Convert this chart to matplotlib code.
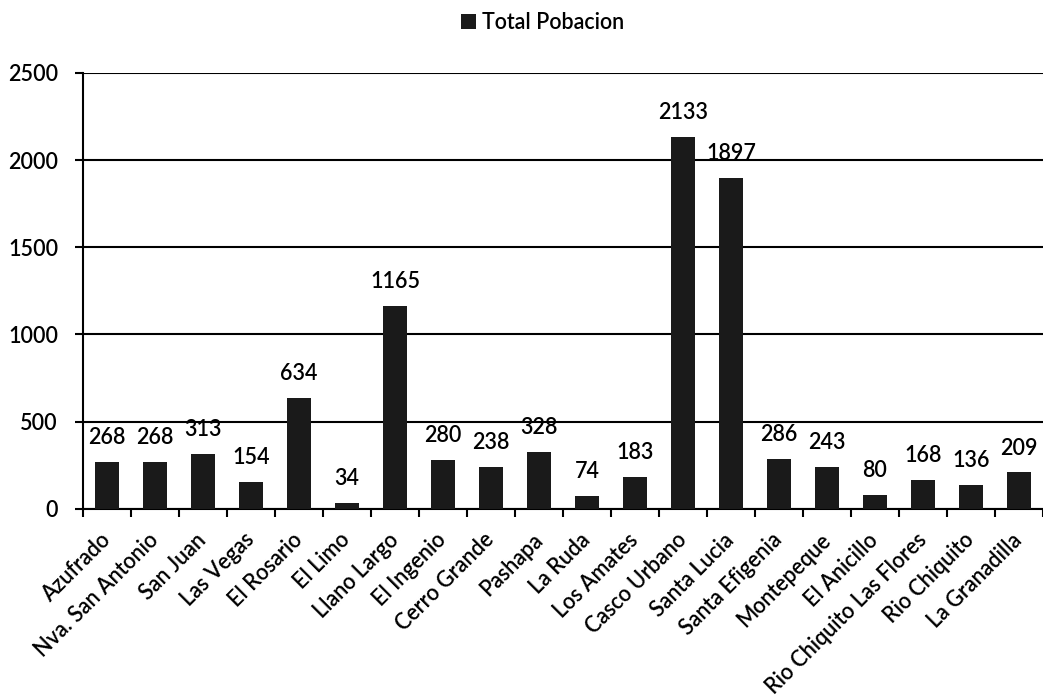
import matplotlib
matplotlib.use("Agg")
import matplotlib.pyplot as plt
import numpy as np

categories = ["Azufrado", "Nva. San Antonio", "San Juan", "Las Vegas", "El Rosario",
              "El Limo", "Llano Largo", "El Ingenio", "Cerro Grande", "Pashapa",
              "La Ruda", "Los Amates", "Casco Urbano", "Santa Lucia", "Santa Efigenia",
              "Montepeque", "El Anicillo", "Rio Chiquito Las Flores", "Rio Chiquito",
              "La Granadilla"]
values = [268, 268, 313, 154, 634, 34, 1165, 280, 238, 328, 74, 183, 2133, 1897,
          286, 243, 80, 168, 136, 209]
series_name = "Total Pobacion"
y_ticks = [0, 500, 1000, 1500, 2000, 2500]

plt.rcParams['font.family'] = ['Lato', 'DejaVu Sans']
FS = 15.5
FW = "semibold"

fig = plt.figure(figsize=(10.43, 7.0), dpi=100)
ax = fig.add_axes([0.0796, 0.273, 0.9204, 0.623])

x = np.arange(len(categories))
bars = ax.bar(x, values, width=0.5, color="#1a1a1a", label=series_name, zorder=3)

ax.set_xlim(-0.5, len(categories) - 0.5)
ax.set_ylim(0, 2500)
ax.set_yticks(y_ticks)
ax.set_yticklabels([str(t) for t in y_ticks], fontsize=FS, fontweight=FW)
ax.yaxis.grid(True, color="black", linewidth=1.5, zorder=1)
ax.set_axisbelow(True)

for s in ["top", "right"]:
    ax.spines[s].set_visible(False)
ax.spines["left"].set_linewidth(1.5)
ax.spines["bottom"].set_linewidth(1.5)

ax.set_xticks(x)
ax.set_xticklabels(categories, rotation=45, ha="right", va="center",
                   rotation_mode="anchor", fontsize=FS, fontweight=FW)
ax.tick_params(axis="x", which="major", length=0, pad=20)
ax.set_xticks(np.arange(len(categories) + 1) - 0.5, minor=True)
ax.tick_params(axis="x", which="minor", length=6, width=1.5, direction="out")
ax.tick_params(axis="y", length=6, width=1.5, direction="out", pad=12)

for xi, v in zip(x, values):
    ax.annotate(str(v), (xi, v), xytext=(0, 10), textcoords="offset points",
                ha="center", va="bottom", fontsize=FS, fontweight=FW)

fig.legend(handles=[bars], labels=[series_name], loc="center", bbox_to_anchor=(0.52, 0.968),
           frameon=False, prop={"size": FS, "weight": FW},
           handlelength=0.7, handleheight=0.7, handletextpad=0.3)

fig.savefig("out.png", dpi=100, facecolor="white")
